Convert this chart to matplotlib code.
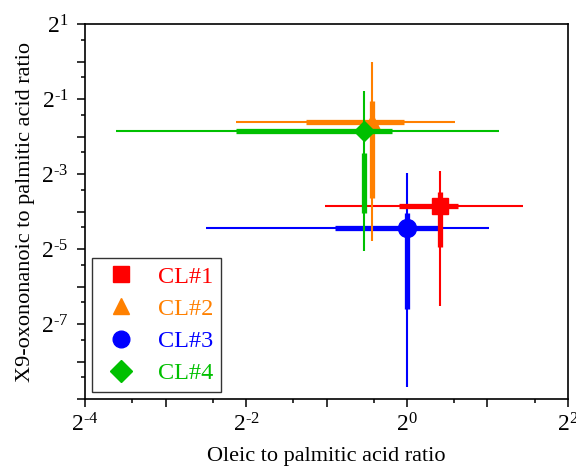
import numpy as np
import matplotlib
matplotlib.use("Agg")
import matplotlib.pyplot as plt
from matplotlib.lines import Line2D
from matplotlib.ticker import FixedLocator, FixedFormatter

plt.rcParams['font.family'] = ['Liberation Serif', 'DejaVu Serif']
plt.rcParams['mathtext.fontset'] = 'custom'
plt.rcParams['mathtext.rm'] = 'Liberation Serif'
plt.rcParams['mathtext.it'] = 'Liberation Serif:italic'
plt.rcParams['mathtext.bf'] = 'Liberation Serif:bold'
plt.rcParams['mathtext.default'] = 'rm'

labels = ["CL#1", "CL#2", "CL#3", "CL#4"]
colors = ["#FF0000", "#FF8000", "#0000FF", "#00C000"]
markers = ["s", "^", "o", "D"]

# marker position
x_mean = [1.33, 0.738, 1.003, 0.691]
y_mean = [0.0692, 0.327, 0.0458, 0.277]
# thin bars (full range)
x_lo = [0.494, 0.229, 0.177, 0.0814]
x_hi = [2.72, 1.516, 2.02, 2.21]
y_lo = [0.0110, 0.0362, 0.00242, 0.0303]
y_hi = [0.132, 0.997, 0.1266, 0.583]
# thick bars
xb_lo = [0.933, 0.418, 0.538, 0.229]
xb_hi = [1.55, 0.975, 1.317, 0.881]
yb_lo = [0.0326, 0.0802, 0.0103, 0.0604]
yb_hi = [0.0900, 0.482, 0.0611, 0.184]

order = [2, 0, 1, 3]  # drawing order


def pow2(e):
    # hyphen instead of math minus, like the original
    s = str(e).replace("-", "\u2010")
    return r"$2^{%s}$" % s


fig = plt.figure(figsize=(5.76, 4.68), dpi=100)
ax = fig.add_axes([0.1476, 0.1474, 0.8385, 0.8013])
ax.set_xscale('log', base=2)
ax.set_yscale('log', base=2)

for z, i in enumerate(order):
    c = colors[i]
    ax.hlines(y_mean[i], x_lo[i], x_hi[i], color=c, lw=1.5, zorder=2 + z)
    ax.vlines(x_mean[i], y_lo[i], y_hi[i], color=c, lw=1.5, zorder=2 + z)
    ax.hlines(y_mean[i], xb_lo[i], xb_hi[i], color=c, lw=3.8, zorder=2 + z)
    ax.vlines(x_mean[i], yb_lo[i], yb_hi[i], color=c, lw=3.8, zorder=2 + z)
    ms = {"s": 11, "^": 11, "o": 13, "D": 10}[markers[i]]
    ax.plot(x_mean[i], y_mean[i], marker=markers[i], color=c, ms=ms,
            ls="none", zorder=2.5 + z)

ax.set_xlim(2 ** -4, 2 ** 2)
ax.set_ylim(2 ** -9, 2 ** 1)

xe = np.arange(-4, 3)
ax.xaxis.set_major_locator(FixedLocator(2.0 ** xe))
ax.xaxis.set_major_formatter(FixedFormatter(
    [pow2(e) if e % 2 == 0 else "" for e in xe]))
ax.xaxis.set_minor_locator(FixedLocator(1.5 * 2.0 ** xe[:-1]))
ax.xaxis.set_minor_formatter(FixedFormatter([""] * len(xe)))

ye = np.arange(-9, 2)
ax.yaxis.set_major_locator(FixedLocator(2.0 ** ye))
ax.yaxis.set_major_formatter(FixedFormatter(
    [pow2(e) if (e % 2 != 0 and e > -9) else "" for e in ye]))
ax.yaxis.set_minor_locator(FixedLocator(1.5 * 2.0 ** ye[:-1]))
ax.yaxis.set_minor_formatter(FixedFormatter([""] * len(ye)))

ax.tick_params(which='major', direction='out', length=6, width=1.1,
               labelsize=17, pad=6)
ax.tick_params(axis='x', which='major', pad=4)
ax.tick_params(which='minor', direction='out', length=3, width=1.1)
for s in ax.spines.values():
    s.set_linewidth(1.2)

ax.set_xlabel("Oleic to palmitic acid ratio", fontsize=16, labelpad=8)
ax.set_ylabel("X9-oxononanoic to palmitic acid ratio", fontsize=16, labelpad=4)

handles = [Line2D([], [], ls="none", marker=markers[i], color=colors[i],
                  ms=12 if markers[i] != "D" else 11) for i in range(4)]
leg = ax.legend(handles, labels, loc="lower left", fontsize=17.5,
                frameon=True, fancybox=False, edgecolor="black",
                borderaxespad=0.3, handletextpad=0.6, labelspacing=0.42,
                borderpad=0.3, handlelength=1.8)
leg.get_frame().set_linewidth(1.0)
for t, c in zip(leg.get_texts(), colors):
    t.set_color(c)

fig.savefig("out.png", dpi=100)
